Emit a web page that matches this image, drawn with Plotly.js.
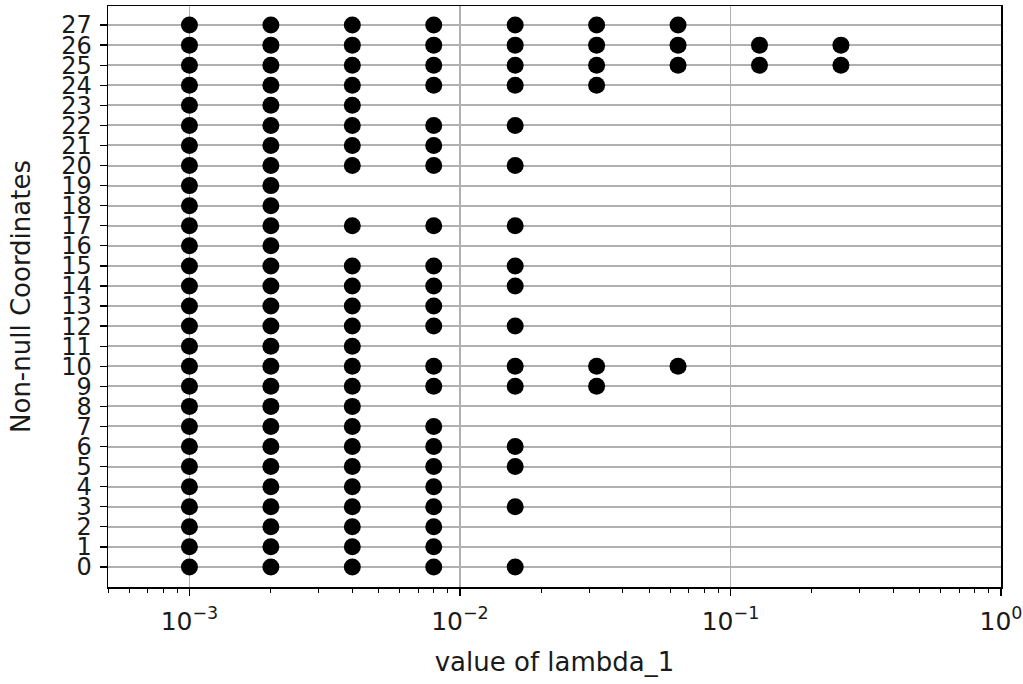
<!DOCTYPE html>
<html>
<head>
<meta charset="utf-8">
<script src="https://cdn.plot.ly/plotly-3.0.1.min.js"></script>
<style>html,body{margin:0;padding:0;background:#fff;}#chart{width:1023px;height:684px;}</style>
</head>
<body>
<div id="chart"></div>
<script>
// values of lambda_1 on the x axis
const lambdas = [0.001, 0.002, 0.004, 0.008, 0.016, 0.032, 0.064, 0.128, 0.256];
// non-null coordinate indices for each lambda value
const coords_0001 = [0,1,2,3,4,5,6,7,8,9,10,11,12,13,14,15,16,17,18,19,20,21,22,23,24,25,26,27];
const coords_0002 = [0,1,2,3,4,5,6,7,8,9,10,11,12,13,14,15,16,17,18,19,20,21,22,23,24,25,26,27];
const coords_0004 = [0,1,2,3,4,5,6,7,8,9,10,11,12,13,14,15,17,20,21,22,23,24,25,26,27];
const coords_0008 = [0,1,2,3,4,5,6,7,9,10,12,13,14,15,17,20,21,22,24,25,26,27];
const coords_0016 = [0,3,5,6,9,10,12,14,15,17,20,22,24,25,26,27];
const coords_0032 = [9,10,24,25,26,27];
const coords_0064 = [10,25,26,27];
const coords_0128 = [25,26];
const coords_0256 = [25,26];
const coordSets = [coords_0001, coords_0002, coords_0004, coords_0008, coords_0016, coords_0032, coords_0064, coords_0128, coords_0256];
// tick labels
const xTickVals = [0.001, 0.01, 0.1, 1];
const xTickText = ['10<sup>−3</sup>', '10<sup>−2</sup>', '10<sup>−1</sup>', '10<sup>0</sup>'];
const yTickVals = [0,1,2,3,4,5,6,7,8,9,10,11,12,13,14,15,16,17,18,19,20,21,22,23,24,25,26,27];

const xs = [], ys = [];
lambdas.forEach((l, i) => { coordSets[i].forEach(c => { xs.push(l); ys.push(c); }); });

const FONT = '"DejaVu Sans", sans-serif';
const TXT = '#1a1a1a';

const trace = {
  x: xs, y: ys, type: 'scatter', mode: 'markers',
  marker: {color: 'black', size: 17, line: {width: 0}},
  showlegend: false, hoverinfo: 'x+y'
};

const layout = {
  width: 1023, height: 684,
  margin: {l: 108, r: 22, t: 6, b: 97},
  paper_bgcolor: '#fff', plot_bgcolor: '#fff',
  font: {family: FONT, color: TXT},
  xaxis: {
    type: 'log',
    range: [Math.log10(0.0005), 0],
    tickvals: xTickVals, ticktext: xTickText,
    ticks: 'outside', ticklen: 7, tickwidth: 1.3, tickcolor: '#000',
    tickfont: {size: 25, family: FONT, color: TXT},
    ticklabelstandoff: 4,
    showgrid: true, gridcolor: '#b0b0b0', gridwidth: 1.5,
    showline: true, linecolor: '#000', linewidth: 1.5, mirror: true,
    zeroline: false,
    minor: {ticks: 'outside', dtick: 'D1', ticklen: 4, tickcolor: '#000', tickwidth: 1, showgrid: false},
    title: {text: 'value of lambda_1', font: {size: 26, family: FONT, color: TXT}, standoff: 18}
  },
  yaxis: {
    range: [-1.0, 27.95],
    tickvals: yTickVals,
    ticks: 'outside', ticklen: 7, tickwidth: 1.3, tickcolor: '#000',
    tickfont: {size: 24, family: FONT, color: TXT},
    ticklabelstandoff: 3,
    showgrid: true, gridcolor: '#b0b0b0', gridwidth: 2,
    showline: true, linecolor: '#000', linewidth: 1.5, mirror: true,
    zeroline: false,
    title: {text: 'Non-null Coordinates', font: {size: 26, family: FONT, color: TXT}, standoff: 23}
  }
};

Plotly.newPlot('chart', [trace], layout, {displayModeBar: false, staticPlot: true});
</script>
</body>
</html>
